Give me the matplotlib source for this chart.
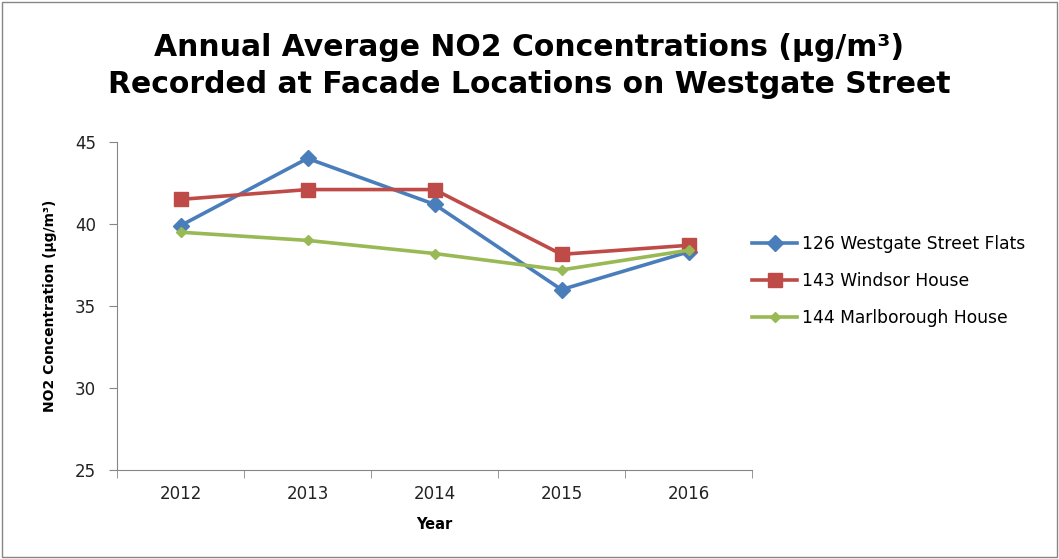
import matplotlib.pyplot as plt
import matplotlib.patches as mpatches

plt.rcParams['font.family'] = ['DejaVu Sans']

# Data
years = ['2012', '2013', '2014', '2015', '2016']
westgate_flats = [39.9, 44.0, 41.2, 36.0, 38.3]
windsor_house = [41.5, 42.1, 42.1, 38.15, 38.7]
marlborough_house = [39.5, 39.0, 38.2, 37.2, 38.4]

fig = plt.figure(figsize=(10.59, 5.59), dpi=100)
ax = fig.add_axes([117 / 1059, 1 - 470 / 559, 635 / 1059, 328 / 559])

x = range(len(years))
ax.plot(x, westgate_flats, color='#4A7EBB', lw=2.6, marker='D', ms=8,
        label='126 Westgate Street Flats')
ax.plot(x, windsor_house, color='#BE4B48', lw=2.6, marker='s', ms=10,
        label='143 Windsor House')
ax.plot(x, marlborough_house, color='#98B954', lw=2.6, marker='D', ms=5.5,
        label='144 Marlborough House')

ax.set_xlim(-0.5, len(years) - 0.5)
ax.set_ylim(25, 45)
ax.set_yticks([25, 30, 35, 40, 45])
ax.set_xticks(list(x))
ax.set_xticklabels(years)
ax.set_xticks([i - 0.5 for i in range(len(years) + 1)], minor=True)
ax.tick_params(axis='x', which='major', length=0, labelsize=12, pad=11, labelcolor='#222222')
ax.tick_params(axis='x', which='minor', length=6, color='#868686')
ax.tick_params(axis='y', length=6, color='#868686', labelsize=12, pad=9, labelcolor='#222222')

for side in ['top', 'right']:
    ax.spines[side].set_visible(False)
for side in ['left', 'bottom']:
    ax.spines[side].set_color('#868686')

ax.set_xlabel('Year', fontsize=10.5, fontweight='bold', labelpad=10)
ax.set_ylabel('NO2 Concentration (µg/m³)', fontsize=10, fontweight='bold', labelpad=13)

fig.text(0.5, 1 - 66 / 559, 'Annual Average NO2 Concentrations (µg/m³)\nRecorded at Facade Locations on Westgate Street',
         ha='center', va='center', fontsize=21.5, fontweight='bold', linespacing=1.35)

fig.legend(loc='center left', bbox_to_anchor=(737 / 1059, 1 - 281 / 559), frameon=False,
           fontsize=12.3, handlelength=2.6, labelspacing=1.1, handletextpad=0.3)

fig.patches.append(mpatches.Rectangle((0.002, 0.003), 0.996, 0.994, transform=fig.transFigure,
                                      fill=False, edgecolor='#868686', lw=1))

plt.savefig('out.png', dpi=100)
